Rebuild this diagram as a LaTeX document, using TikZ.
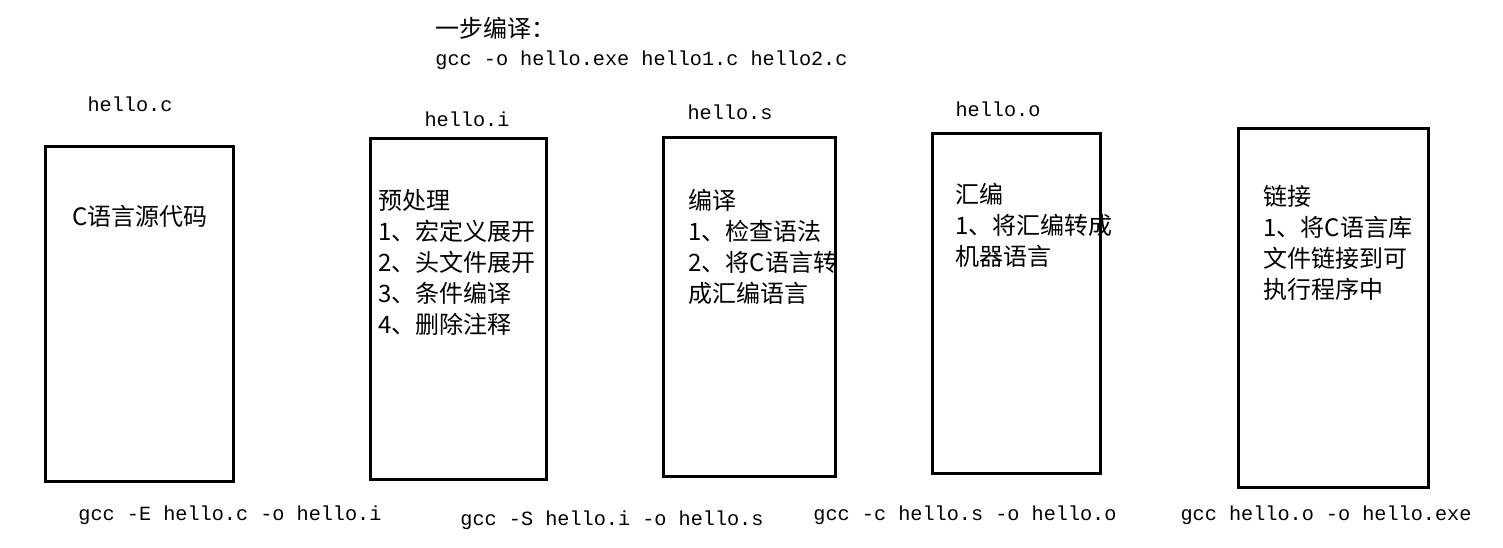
\documentclass[tikz,border=0pt]{standalone}
\usepackage{fontspec}
\setmainfont{Noto Sans CJK SC}
\setmonofont{Liberation Mono}

\begin{document}
\begin{tikzpicture}[x=0.5pt,y=-0.5pt,
	stage/.style={draw,line width=1.5pt,inner sep=0pt},
	fname/.style={font=\ttfamily\fontsize{10.1pt}{12pt}\selectfont,inner sep=0pt},
	note/.style={anchor=north west,align=left,inner sep=0pt,font=\fontsize{12pt}{15.5pt}\selectfont}]
	\useasboundingbox (0,0) rectangle (1503,547);
	% one step
	\path (435,28) node[anchor=west,inner sep=0pt,font=\fontsize{12pt}{15pt}\selectfont] (onestep) {一步编译：}
	(435,60) node[fname,anchor=west] (onecmd) {gcc -o hello.exe hello1.c hello2.c};
	% stages
	\path (139,313.5) node[stage,minimum width=94pt,minimum height=167.5pt] (src) {}
	(458,308.5) node[stage,minimum width=88pt,minimum height=170.5pt] (pre) {}
	(749,306.5) node[stage,minimum width=86pt,minimum height=169.5pt] (comp) {}
	(1016,303) node[stage,minimum width=84pt,minimum height=170pt] (asm) {}
	(1333,307.5) node[stage,minimum width=95pt,minimum height=179.5pt] (link) {};
	% file names
	\path (130,104) node[fname] (srcfile) {hello.c}
	(467,119) node[fname] (prefile) {hello.i}
	(730,112) node[fname] (compfile) {hello.s}
	(998,109) node[fname] (asmfile) {hello.o};
	% what each stage does
	\path (140,216) node[inner sep=0pt,font=\fontsize{12pt}{15pt}\selectfont] (srctext) {C语言源代码}
	(378,189) node[note] (pretext) {预处理\\1、宏定义展开\\2、头文件展开\\3、条件编译\\4、删除注释}
	(688,189) node[note] (comptext) {编译\\1、检查语法\\2、将C语言转\\成汇编语言}
	(955,183) node[note] (asmtext) {汇编\\1、将汇编转成\\机器语言}
	(1263,185) node[note] (linktext) {链接\\1、将C语言库\\文件链接到可\\执行程序中};
	% commands
	\path (230,515) node[fname] (precmd) {gcc -E hello.c -o hello.i}
	(612,520) node[fname] (compcmd) {gcc -S hello.i -o hello.s}
	(965,515) node[fname] (asmcmd) {gcc -c hello.s -o hello.o}
	(1326,515) node[fname] (linkcmd) {gcc hello.o -o hello.exe};
\end{tikzpicture}
\end{document}
